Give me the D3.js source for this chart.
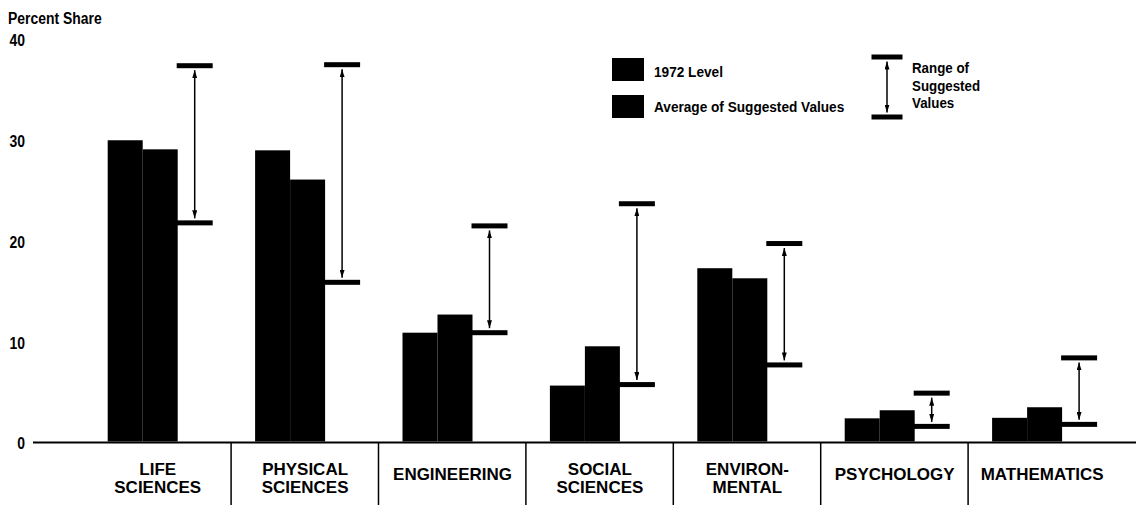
<!DOCTYPE html>
<html>
<head>
<meta charset="utf-8">
<script src="https://cdn.jsdelivr.net/npm/d3@7"></script>
<style>
  html, body { margin: 0; padding: 0; background: #fff; }
  svg { display: block; }
  text { font-family: "Liberation Sans", Arial, sans-serif; font-weight: bold; fill: #000; }
</style>
</head>
<body>
<svg id="chart" width="1136" height="505"></svg>
<script>
// ---- data ----
const categories = ["Life Sciences", "Physical Sciences", "Engineering", "Social Sciences", "Environmental", "Psychology", "Mathematics"];
const categoryLabels = [["LIFE", "SCIENCES"], ["PHYSICAL", "SCIENCES"], ["ENGINEERING"], ["SOCIAL", "SCIENCES"], ["ENVIRON-", "MENTAL"], ["PSYCHOLOGY"], ["MATHEMATICS"]];
const level1972 = [29.9, 28.9, 10.8, 5.55, 17.2, 2.3, 2.35];
const avgSuggested = [29.0, 26.0, 12.6, 9.45, 16.2, 3.1, 3.4];
const rangeHigh = [37.3, 37.4, 21.4, 23.6, 19.65, 4.8, 8.3];
const rangeLow = [21.7, 15.8, 10.8, 5.65, 7.6, 1.5, 1.7];
const yTicks = [0, 10, 20, 30, 40];
const yTitle = "Percent Share";
const legendBars = ["1972 Level", "Average of Suggested Values"];
const legendRange = ["Range of", "Suggested", "Values"];

// ---- layout ----
const W = 1136, H = 505;
const svg = d3.select("#chart");

const y = d3.scaleLinear().domain([0, 40]).range([441.5, 38.5]);
const x = d3.scaleBand().domain(categories).range([107.7, 107.7 + 7 * 147.4]).paddingInner(0).paddingOuter(0);
const barW = 35, tickOff = 69, tickW = 36, tickH = 5;

// arrow marker
const defs = svg.append("defs");
defs.append("marker")
  .attr("id", "arr")
  .attr("viewBox", "0 0 10 10")
  .attr("refX", 10).attr("refY", 5)
  .attr("markerUnits", "userSpaceOnUse")
  .attr("markerWidth", 8).attr("markerHeight", 5)
  .attr("preserveAspectRatio", "none")
  .attr("orient", "auto-start-reverse")
  .append("path").attr("d", "M0,0 L10,5 L0,10 Z").attr("fill", "#000");

// y title
svg.append("text")
  .attr("transform", "translate(8,24) scale(0.82,1)")
  .attr("font-size", 17)
  .text(yTitle);

// y axis (labels only)
const yAxis = svg.append("g")
  .attr("transform", "translate(25,0)")
  .call(d3.axisLeft(y).tickValues(yTicks).tickSize(0).tickPadding(0).tickFormat(d3.format("d")));
yAxis.select(".domain").remove();
yAxis.attr("font-family", null).attr("font-size", null);
yAxis.selectAll("text")
  .attr("x", 0).attr("dy", "0.44em")
  .attr("font-size", 17)
  .attr("text-anchor", "end")
  .attr("transform", "scale(0.82,1)");

// bars
const idx = d3.range(categories.length);
svg.append("g").selectAll("rect").data(idx).join("rect")
  .attr("x", i => x(categories[i]))
  .attr("y", i => y(level1972[i]))
  .attr("width", barW)
  .attr("height", i => y(0) - y(level1972[i]))
  .attr("fill", "#000");
svg.append("g").selectAll("rect").data(idx).join("rect")
  .attr("x", i => x(categories[i]) + barW)
  .attr("y", i => y(avgSuggested[i]))
  .attr("width", barW)
  .attr("height", i => y(0) - y(avgSuggested[i]))
  .attr("fill", "#000");

// range markers
const rg = svg.append("g");
rg.append("g").selectAll("rect").data(idx).join("rect")
  .attr("x", i => x(categories[i]) + tickOff)
  .attr("y", i => y(rangeHigh[i]) - tickH / 2)
  .attr("width", tickW).attr("height", tickH).attr("fill", "#000");
rg.append("g").selectAll("rect").data(idx).join("rect")
  .attr("x", i => x(categories[i]) + tickOff)
  .attr("y", i => y(rangeLow[i]) - tickH / 2)
  .attr("width", tickW).attr("height", tickH).attr("fill", "#000");
rg.append("g").selectAll("line").data(idx).join("line")
  .attr("x1", i => x(categories[i]) + tickOff + tickW / 2)
  .attr("x2", i => x(categories[i]) + tickOff + tickW / 2)
  .attr("y1", i => y(rangeHigh[i]) + tickH / 2 + 2)
  .attr("y2", i => y(rangeLow[i]) - tickH / 2 - 2)
  .attr("stroke", "#000").attr("stroke-width", 1.5)
  .attr("marker-start", "url(#arr)").attr("marker-end", "url(#arr)");

// baseline axis
svg.append("line")
  .attr("x1", 33).attr("x2", W)
  .attr("y1", y(0) + 1).attr("y2", y(0) + 1)
  .attr("stroke", "#000").attr("stroke-width", 2.2);

// separators
svg.append("g").selectAll("line").data(idx.slice(1)).join("line")
  .attr("x1", i => x(categories[i]) - 24)
  .attr("x2", i => x(categories[i]) - 24)
  .attr("y1", y(0) + 1).attr("y2", H)
  .attr("stroke", "#000").attr("stroke-width", 1.5);

// category labels (one text element per category, lines as tspans)
svg.append("g").selectAll("text").data(idx).join("text")
  .attr("transform", i => `translate(${x(categories[i]) + 50},${categoryLabels[i].length === 1 ? 480 : 474.5}) scale(1.03,1)`)
  .attr("text-anchor", "middle")
  .attr("font-size", 16.5)
  .each(function (i) {
    categoryLabels[i].forEach((t, k) => {
      d3.select(this).append("tspan")
        .attr("x", 0)
        .attr("dy", k === 0 ? 0 : 18.6)
        .text(t);
    });
  });

// legend: bars
const lg = svg.append("g");
lg.selectAll("rect").data(legendBars).join("rect")
  .attr("x", 612).attr("y", (d, k) => 58 + k * 37)
  .attr("width", 32).attr("height", 23).attr("fill", "#000");
lg.selectAll("text").data(legendBars).join("text")
  .attr("transform", (d, k) => `translate(654,${76.7 + k * 35}) scale(0.88,1)`)
  .attr("font-size", 15.5)
  .text(d => d);

// legend: range
const lr = svg.append("g");
lr.append("rect").attr("x", 871.5).attr("y", 54.5).attr("width", 31).attr("height", 5).attr("fill", "#000");
lr.append("rect").attr("x", 871.5).attr("y", 114.5).attr("width", 31).attr("height", 5).attr("fill", "#000");
lr.append("line")
  .attr("x1", 887).attr("x2", 887).attr("y1", 61.5).attr("y2", 112.5)
  .attr("stroke", "#000").attr("stroke-width", 1.5)
  .attr("marker-start", "url(#arr)").attr("marker-end", "url(#arr)");
lr.append("text")
  .attr("transform", "translate(912,73.3) scale(0.86,1)")
  .attr("font-size", 15.5)
  .selectAll("tspan").data(legendRange).join("tspan")
  .attr("x", 0)
  .attr("dy", (d, k) => k === 0 ? 0 : 17.3)
  .text(d => d);
</script>
</body>
</html>
